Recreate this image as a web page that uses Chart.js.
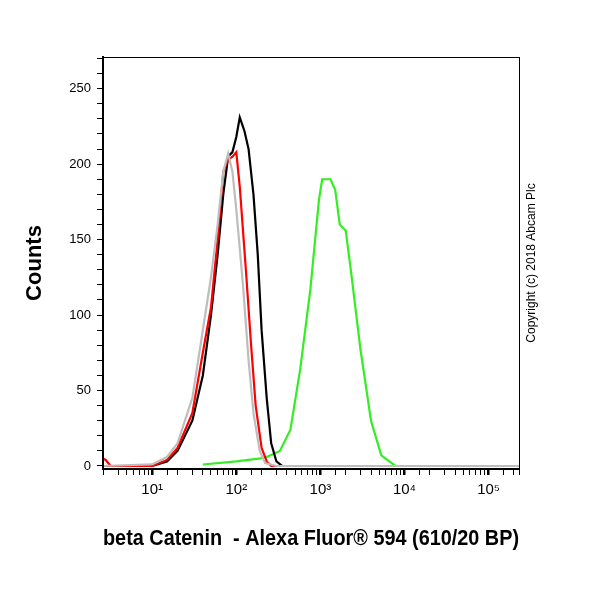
<!DOCTYPE html>
<html><head><meta charset="utf-8">
<script src="https://cdn.jsdelivr.net/npm/chart.js@4"></script>
<style>html,body{margin:0;padding:0;background:#fff}#w{width:600px;height:600px}</style>
</head><body><div id="w"><canvas id="c" width="600" height="600"></canvas></div>
<script>
const greyX=[2.6,10,15,20,30,40,50,60,70,80,90,100,120,140,160,190,220,300,2.3e5];
const greyY=[0,1,6,15,45,90,125,160,195,207,195,170,120,70,35,10,2,0,0];
const redX=[2.6,2.8,3.2,10,15,20,30,40,47,50,60,70,80,90,100,110,130,150,170,200,230,260,2.3e5];
const redY=[5,4,0,0,4,12,35,75,97,105,150,195,203,205,208,185,130,80,40,12,3,0,0];
const blackX=[2.6,10,15,20,30,40,50,60,70,80,90,100,110,125,140,160,180,200,230,260,300,350,2.3e5];
const blackY=[0,0,3,10,30,60,100,140,180,205,208,218,231,222,210,180,140,90,45,15,3,0,0];
const greenX=[40,100,195,230,330,440,575,760,960,1050,1320,1500,1700,2000,2300,3000,4000,5300,7800,2.3e5];
const greenY=[1,3,5,6,10,24,64,117,176,190,190,183,160,156,130,77,30,7,0,0];
const yTicks=[0,50,100,150,200,250];
const sup={'0':'⁰','1':'¹','2':'²','3':'³','4':'⁴','5':'⁵'};
const pts=(xs,ys)=>xs.map((x,i)=>({x:x,y:ys[i]}));
const ds=(xs,ys,c)=>({data:pts(xs,ys),borderColor:c,borderWidth:2.2,pointRadius:0,tension:0,fill:false});
const frame={id:'frame',afterDraw(ch){const a=ch.chartArea,g=ch.ctx;g.save();g.strokeStyle='#000';g.lineWidth=1;g.strokeRect(a.left+0.5,a.top+0.5,a.right-a.left,a.bottom-a.top);
g.translate(532,a.top+(a.bottom-a.top)/2);g.rotate(-Math.PI/2);g.fillStyle='#000';g.font='12px Arial';g.textAlign='center';g.textBaseline='middle';g.fillText('Copyright (c) 2018 Abcam Plc',0,0);g.restore();}};
new Chart(document.getElementById('c'),{type:'line',
data:{datasets:[ds(greyX,greyY,'#bdbdbd'),ds(redX,redY,'#ff0000'),ds(blackX,blackY,'#000000'),ds(greenX,greenY,'#33ee22')]},
options:{responsive:false,animation:false,plugins:{legend:{display:false},tooltip:{enabled:false}},
layout:{padding:{left:18,right:81,top:57,bottom:0}},
scales:{
x:{type:'logarithmic',min:2.6,max:2.3e5,
 afterFit(s){s.height=131;},
 border:{color:'#000',width:2},
 grid:{drawOnChartArea:false,color:'#000',tickLength:6,lineWidth:c=>{const v=c.tick&&c.tick.value;const l=v?Math.log10(v):0.5;return Math.abs(l-Math.round(l))<1e-6?2.5:1;}},
 ticks:{autoSkip:false,maxRotation:0,color:'#000',font:{family:'Arial',size:15},padding:6,
  callback:(v)=>{const l=Math.log10(v);return Math.abs(l-Math.round(l))<1e-6?'10'+sup[String(Math.round(l))]:'';}},
 title:{display:true,text:'beta Catenin  - Alexa Fluor® 594 (610/20 BP)',color:'#000',font:{family:'Arial',size:22,weight:'bold'},padding:{top:12,bottom:48}}},
y:{type:'linear',min:-2,max:271,
 afterFit(s){s.width=85;},
 afterBuildTicks(s){const t=[];for(let v=0;v<=270;v+=10)t.push({value:v});s.ticks=t;},
 border:{color:'#000',width:2},
 grid:{drawOnChartArea:false,color:'#000',tickLength:6,lineWidth:1},
 ticks:{autoSkip:false,color:'#000',font:{family:'Arial',size:13},padding:6,
  callback:(v)=>yTicks.includes(v)?String(v):''},
 title:{display:true,text:'Counts',color:'#000',font:{family:'Arial',size:22,weight:'bold'},padding:{bottom:14}}}
}},plugins:[frame]});
</script></body></html>
